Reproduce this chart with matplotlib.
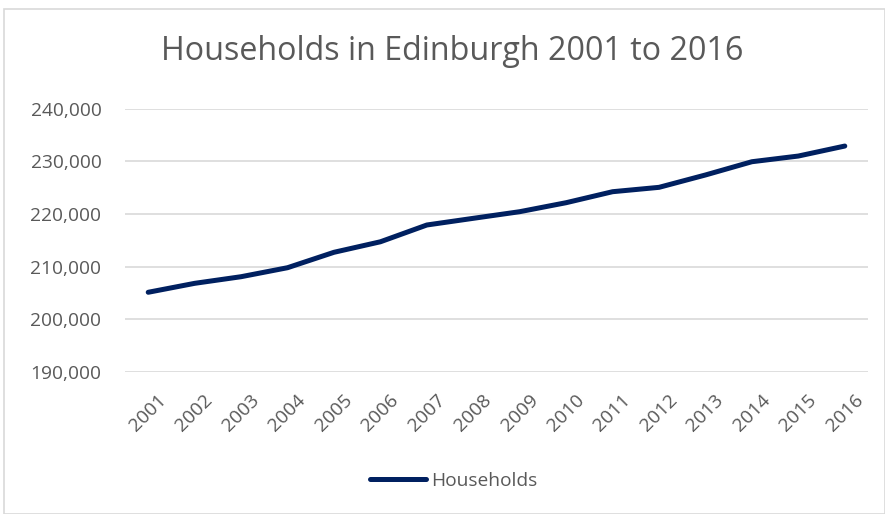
import matplotlib
matplotlib.use("Agg")
import matplotlib.pyplot as plt
from matplotlib.patches import Rectangle
from matplotlib.ticker import FuncFormatter
import matplotlib.transforms as mtrans

years = ["2001", "2002", "2003", "2004", "2005", "2006", "2007", "2008",
         "2009", "2010", "2011", "2012", "2013", "2014", "2015", "2016"]
households = [205100, 206800, 208060, 209770, 212700, 214700, 217890, 219160,
              220420, 222130, 224220, 225050, 227400, 229920, 231000, 232900]
y_ticks = [190000, 200000, 210000, 220000, 230000, 240000]

W, H = 885, 514
fig = plt.figure(figsize=(W / 100, H / 100), dpi=100)
plt.rcParams['font.family'] = ['Open Sans', 'DejaVu Sans']
gray = "#595959"

# chart border
fig.patches.append(Rectangle((4 / W, 0), (W - 4) / W, (H - 9) / H, transform=fig.transFigure,
                             fill=False, edgecolor="#d9d9d9", linewidth=1.2))

left, right, top, bottom = 125, 868, 108.7, 371.7
ax = fig.add_axes([left / W, 1 - bottom / H, (right - left) / W, (bottom - top) / H])
x = list(range(len(years)))
ax.plot(x, households, color="#002060", linewidth=3.6, solid_capstyle="round",
        label="Households", zorder=3)
ax.set_xlim(-0.5, len(years) - 0.5)
ax.set_ylim(y_ticks[0], y_ticks[-1])
ax.set_yticks(y_ticks)
ax.yaxis.set_major_formatter(FuncFormatter(lambda v, p: f"{int(v):,}"))
ax.set_xticks(x)
ax.set_xticklabels(years, rotation=45, ha="right", rotation_mode="anchor")
ax.grid(axis="y", color="#d9d9d9", linewidth=1.2, zorder=0)
for s in ax.spines.values():
    s.set_visible(False)
ax.tick_params(axis="both", length=0, colors=gray, labelsize=13.8)
ax.tick_params(axis="y", pad=17)
ax.tick_params(axis="x", pad=14)
for lbl in ax.get_xticklabels():
    lbl.set_transform(lbl.get_transform() + mtrans.ScaledTranslation(0.09, 0, fig.dpi_scale_trans))

fig.text(452 / W, 1 - 52 / H, "Households in Edinburgh 2001 to 2016", ha="center", va="center",
         fontsize=23.2, color=gray)

leg = fig.legend(loc="center", bbox_to_anchor=(454 / W, 1 - 481 / H), frameon=False,
                 fontsize=13.8, handlelength=2.9, handletextpad=0.3)
for t in leg.get_texts():
    t.set_color(gray)

fig.savefig("out.png", dpi=100)
